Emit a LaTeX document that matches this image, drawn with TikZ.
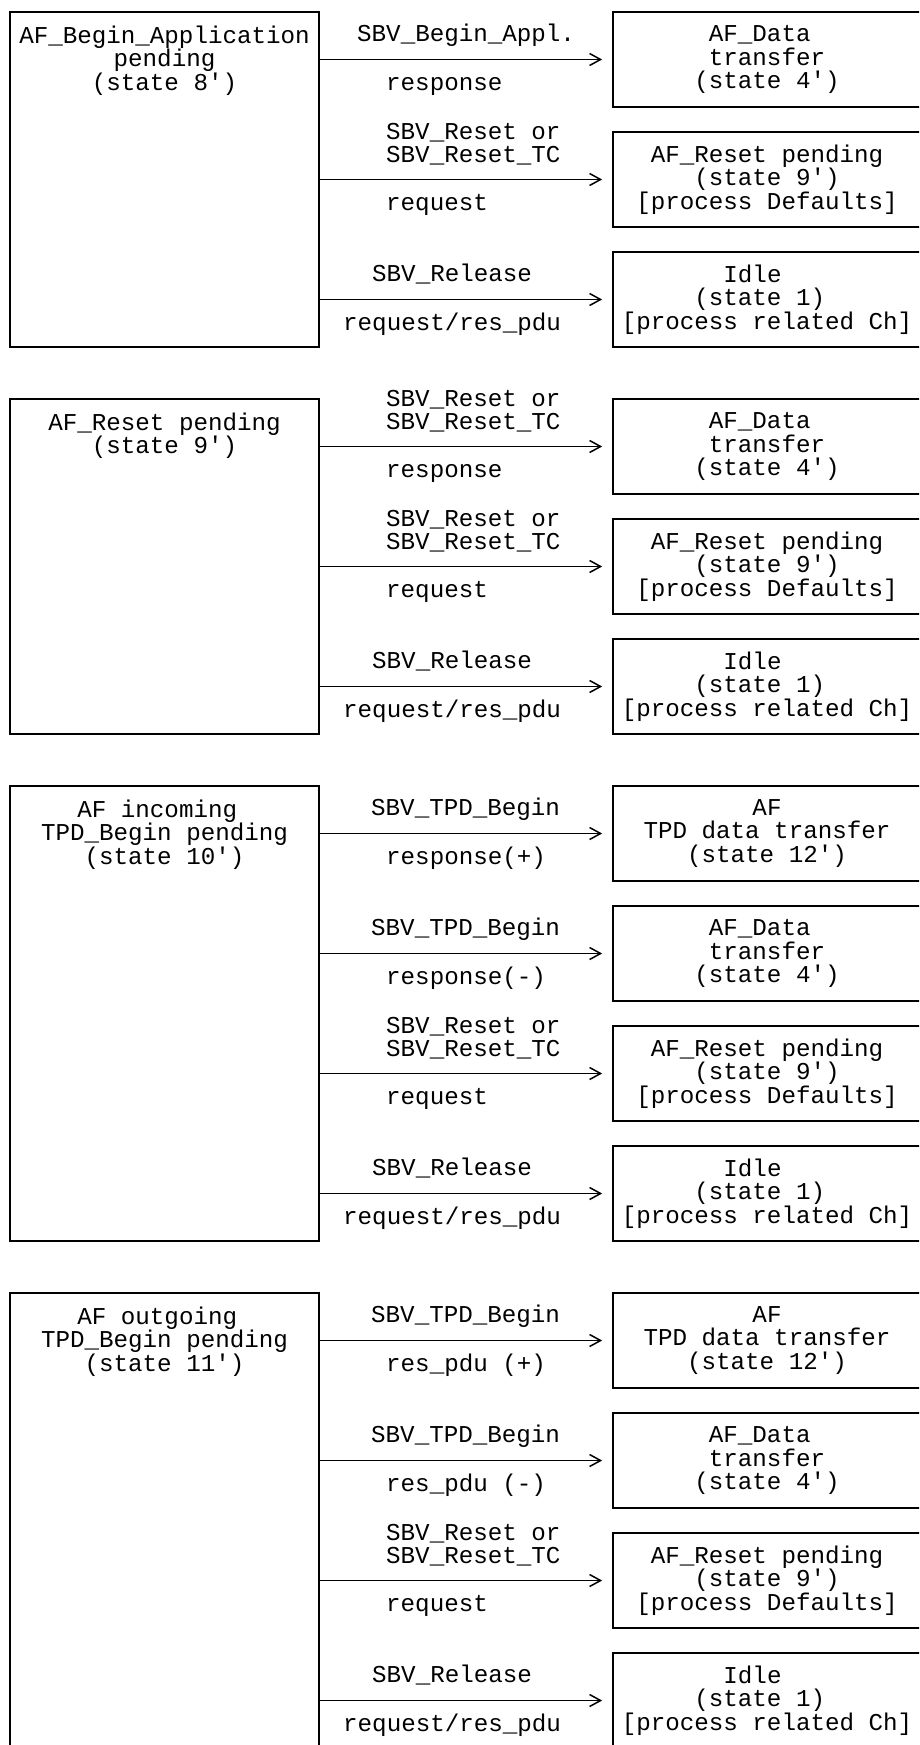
\documentclass[tikz,border=0pt]{standalone}
\usepackage{fontspec}
\setmonofont{Liberation Mono}
\usetikzlibrary{arrows.meta}
\newcommand\tfnt{\ttfamily\fontsize{24.2}{23.5}\selectfont\lineskiplimit=-100pt}
\newcommand\fl{\rule{0pt}{20pt}}
\newcommand\pc{\phantom{x}}
\tikzset{
  box/.style={draw, line width=1.7pt, inner sep=0pt},
  lbox/.style={box, minimum width=309pt},
  rbox/.style={box, minimum width=308pt, minimum height=95pt, align=center, font=\tfnt},
  lbl/.style={anchor=base west, inner sep=0pt, font=\tfnt},
  ltxt/.style={anchor=north, inner sep=0pt, align=center, font=\tfnt},
  arr/.style={-{Straight Barb[length=11pt,width=12pt]}, line width=1.5pt, shorten >=10pt},
}
\begin{document}
\begin{tikzpicture}[x=1pt,y=-1pt]
\path[use as bounding box] (0,0) rectangle (919,1745);
\clip (0,0) rectangle (919,1745);
% ---------------- group 1
\node[lbox, minimum height=335pt] (L1) at (164.5,179.5) {};
\node[ltxt] (L1t) at (164.5,23) {\fl AF\_Begin\_Application\\pending\\(state 8')};
\node[rbox] (R10) at (767,59.5) {AF\_Data\pc\\transfer\\(state 4')};
\node[rbox] (R11) at (767,179.5) {AF\_Reset pending\\(state 9')\\{[process Defaults]}};
\node[rbox] (R12) at (767,299.5) {Idle\pc\pc\\(state 1)\pc\\{[process related Ch]}};
\draw[arr] (L1.east |- R10.west) -- (R10.west);
\draw[arr] (L1.east |- R11.west) -- (R11.west);
\draw[arr] (L1.east |- R12.west) -- (R12.west);
\node[lbl] (a10) at (357,41.5) {SBV\_Begin\_Appl.};
\node[lbl] (b10) at (386,90.5) {response};
\node[lbl] (a11) at (386,139.5) {SBV\_Reset or};
\node[lbl] (c11) at (386,162.5) {SBV\_Reset\_TC};
\node[lbl] (b11) at (386,210.5) {request};
\node[lbl] (a12) at (372,281.5) {SBV\_Release};
\node[lbl] (b12) at (343,330.5) {request/res\_pdu};
% ---------------- group 2
\node[lbox, minimum height=335pt] (L2) at (164.5,566.5) {};
\node[ltxt] (L2t) at (164.5,410) {\fl AF\_Reset pending\\(state 9')};
\node[rbox] (R20) at (767,446.5) {AF\_Data\pc\\transfer\\(state 4')};
\node[rbox] (R21) at (767,566.5) {AF\_Reset pending\\(state 9')\\{[process Defaults]}};
\node[rbox] (R22) at (767,686.5) {Idle\pc\pc\\(state 1)\pc\\{[process related Ch]}};
\draw[arr] (L2.east |- R20.west) -- (R20.west);
\draw[arr] (L2.east |- R21.west) -- (R21.west);
\draw[arr] (L2.east |- R22.west) -- (R22.west);
\node[lbl] (a20) at (386,406.5) {SBV\_Reset or};
\node[lbl] (c20) at (386,429.5) {SBV\_Reset\_TC};
\node[lbl] (b20) at (386,477.5) {response};
\node[lbl] (a21) at (386,526.5) {SBV\_Reset or};
\node[lbl] (c21) at (386,549.5) {SBV\_Reset\_TC};
\node[lbl] (b21) at (386,597.5) {request};
\node[lbl] (a22) at (372,668.5) {SBV\_Release};
\node[lbl] (b22) at (343,717.5) {request/res\_pdu};
% ---------------- group 3
\node[lbox, minimum height=455pt] (L3) at (164.5,1013.5) {};
\node[ltxt] (L3t) at (164.5,797) {\fl AF incoming\pc\\TPD\_Begin pending\\(state 10')};
\node[rbox] (R30) at (767,833.5) {AF\\TPD data transfer\\(state 12')};
\node[rbox] (R31) at (767,953.5) {AF\_Data\pc\\transfer\\(state 4')};
\node[rbox] (R32) at (767,1073.5) {AF\_Reset pending\\(state 9')\\{[process Defaults]}};
\node[rbox] (R33) at (767,1193.5) {Idle\pc\pc\\(state 1)\pc\\{[process related Ch]}};
\draw[arr] (L3.east |- R30.west) -- (R30.west);
\draw[arr] (L3.east |- R31.west) -- (R31.west);
\draw[arr] (L3.east |- R32.west) -- (R32.west);
\draw[arr] (L3.east |- R33.west) -- (R33.west);
\node[lbl] (a30) at (371,815.5) {SBV\_TPD\_Begin};
\node[lbl] (b30) at (386,864.5) {response(+)};
\node[lbl] (a31) at (371,935.5) {SBV\_TPD\_Begin};
\node[lbl] (b31) at (386,984.5) {response(-)};
\node[lbl] (a32) at (386,1033.5) {SBV\_Reset or};
\node[lbl] (c32) at (386,1056.5) {SBV\_Reset\_TC};
\node[lbl] (b32) at (386,1104.5) {request};
\node[lbl] (a33) at (372,1175.5) {SBV\_Release};
\node[lbl] (b33) at (343,1224.5) {request/res\_pdu};
% ---------------- group 4
\node[lbox, minimum height=455pt] (L4) at (164.5,1520.5) {};
\node[ltxt] (L4t) at (164.5,1304) {\fl AF outgoing\pc\\TPD\_Begin pending\\(state 11')};
\node[rbox] (R40) at (767,1340.5) {AF\\TPD data transfer\\(state 12')};
\node[rbox] (R41) at (767,1460.5) {AF\_Data\pc\\transfer\\(state 4')};
\node[rbox] (R42) at (767,1580.5) {AF\_Reset pending\\(state 9')\\{[process Defaults]}};
\node[rbox] (R43) at (767,1700.5) {Idle\pc\pc\\(state 1)\pc\\{[process related Ch]}};
\draw[arr] (L4.east |- R40.west) -- (R40.west);
\draw[arr] (L4.east |- R41.west) -- (R41.west);
\draw[arr] (L4.east |- R42.west) -- (R42.west);
\draw[arr] (L4.east |- R43.west) -- (R43.west);
\node[lbl] (a40) at (371,1322.5) {SBV\_TPD\_Begin};
\node[lbl] (b40) at (386,1371.5) {res\_pdu (+)};
\node[lbl] (a41) at (371,1442.5) {SBV\_TPD\_Begin};
\node[lbl] (b41) at (386,1491.5) {res\_pdu (-)};
\node[lbl] (a42) at (386,1540.5) {SBV\_Reset or};
\node[lbl] (c42) at (386,1563.5) {SBV\_Reset\_TC};
\node[lbl] (b42) at (386,1611.5) {request};
\node[lbl] (a43) at (372,1682.5) {SBV\_Release};
\node[lbl] (b43) at (343,1731.5) {request/res\_pdu};
\end{tikzpicture}
\end{document}
